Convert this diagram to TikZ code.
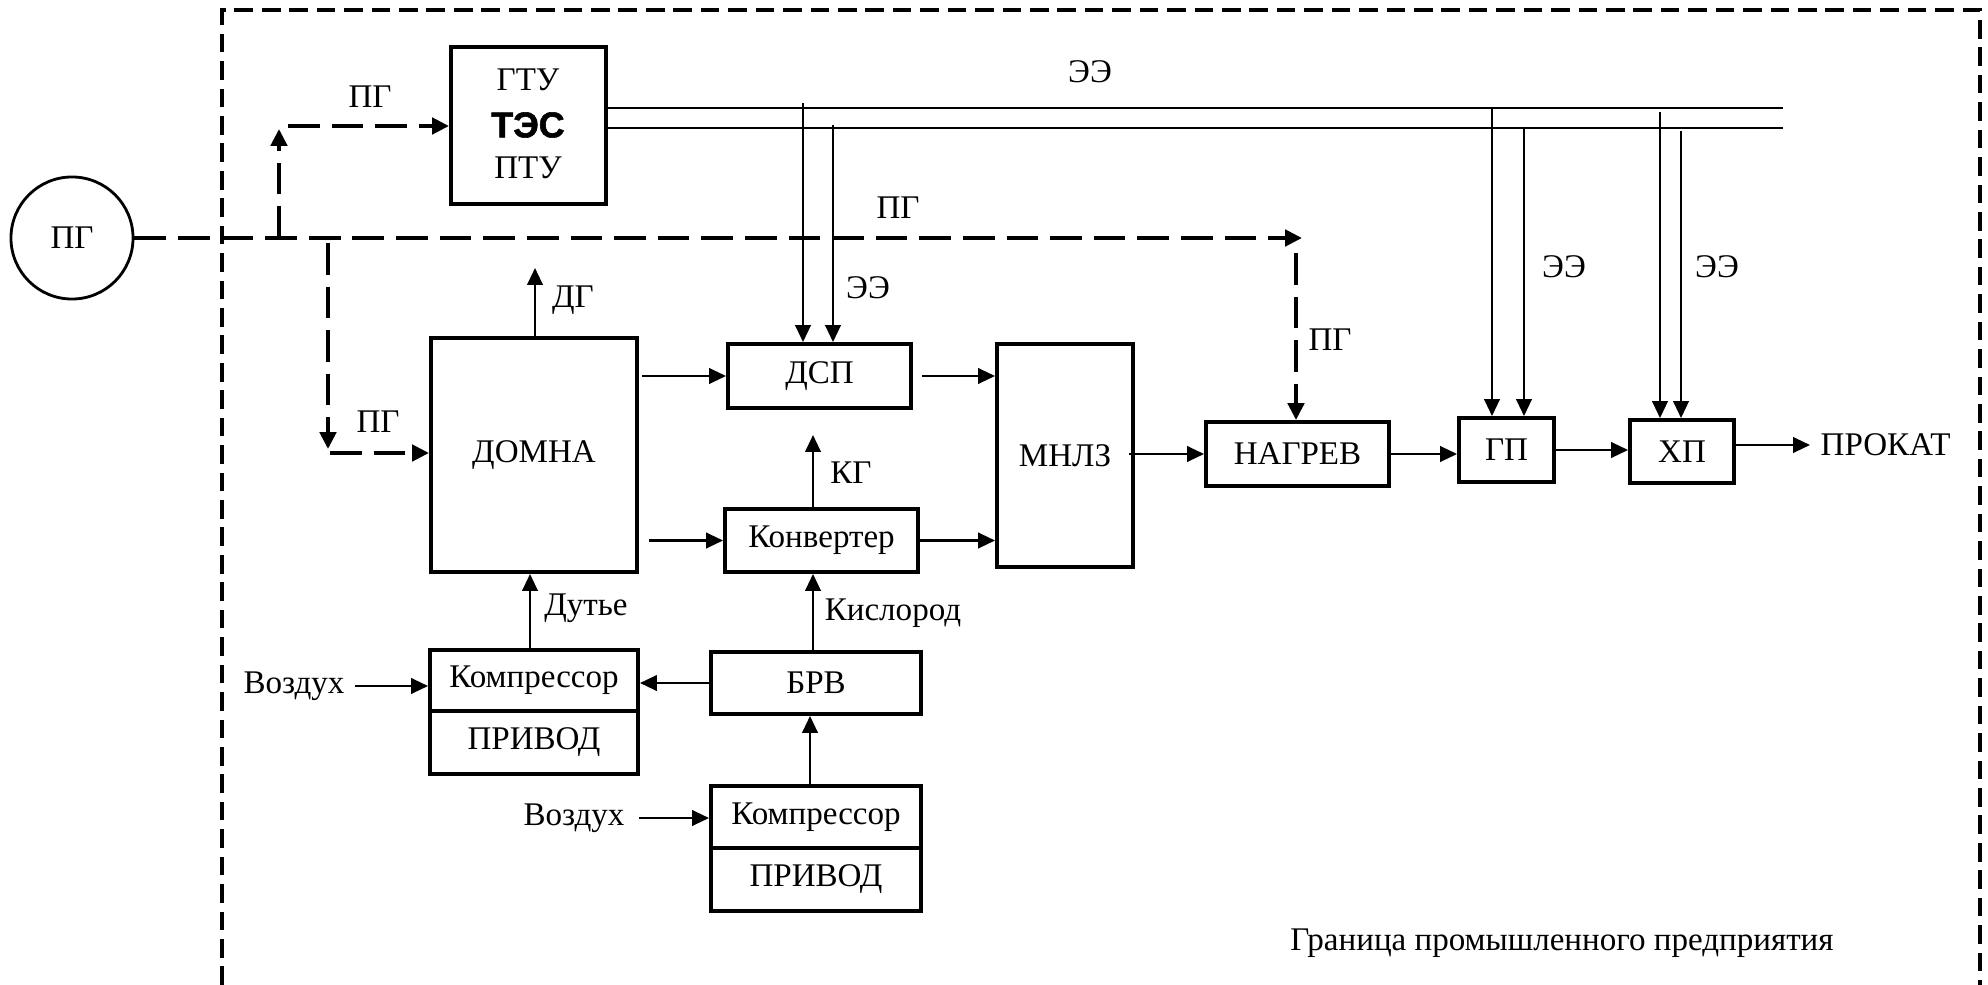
\documentclass[tikz,border=0pt]{standalone}
\usepackage{fontspec}
\setmainfont{Liberation Serif}
\newfontfamily\tesfont{Liberation Sans}[FakeBold=1.6]
\usetikzlibrary{arrows.meta}
\begin{document}
\begin{tikzpicture}[x=0.01cm,y=-0.01cm,
  font=\fontsize{9.4}{11}\selectfont,
  box/.style={draw,line width=1.1pt,inner sep=0pt,align=center},
  arr/.style={line width=0.65pt,-{Triangle[length=4.8pt,width=4.4pt]}},
  gas/.style={line width=1.15pt,dash pattern=on 9pt off 3.4pt},
  gasarr/.style={gas,-{Triangle[length=4.8pt,width=4.6pt]}},
  bus/.style={line width=0.4pt},
  boundary/.style={line width=0.9pt,dash pattern=on 5.3pt off 2.5pt},
  lbl/.style={inner sep=0pt}]
\useasboundingbox (0,0) rectangle (1988,985);

% boundary of the enterprise
\draw[boundary] (222,985) -- (222,10) -- (1980,10) -- (1980,985);
\node[lbl] (granica) at (1562,943) {Граница промышленного предприятия};

% source of natural gas
\node[draw,circle,line width=0.8pt,minimum size=1.22cm,inner sep=0pt] (pg) at (72,238) {ПГ};

% boxes
\node[box,minimum width=1.55cm,minimum height=1.57cm] (tes) at (528.5,125.5) {};
\node[lbl] (gtu) at (528,80) {ГТУ};
\node[lbl,font=\tesfont\bfseries\fontsize{10.2}{12}\selectfont] (tesl) at (528,125) {ТЭС};
\node[lbl] (ptu) at (528,168) {ПТУ};

\node[box,minimum width=2.06cm,minimum height=2.34cm] (domna) at (534,455) {ДОМНА};
\node[box,minimum width=1.83cm,minimum height=0.64cm] (dsp) at (819.5,376) {ДСП};
\node[box,minimum width=1.93cm,minimum height=0.63cm] (konv) at (821.5,540.5) {Конвертер};
\node[box,minimum width=1.36cm,minimum height=2.23cm] (mnlz) at (1065,455.5) {МНЛЗ};
\node[box,minimum width=1.83cm,minimum height=0.64cm] (nagrev) at (1297.5,454) {НАГРЕВ};
\node[box,minimum width=0.95cm,minimum height=0.64cm] (gp) at (1506.5,450) {ГП};
\node[box,minimum width=1.04cm,minimum height=0.63cm] (hp) at (1682,451.5) {ХП};
\node[box,minimum width=2.08cm,minimum height=0.61cm] (komp1) at (534,680.5) {Компрессор};
\node[box,minimum width=2.08cm,minimum height=0.63cm] (priv1) at (534,742.5) {ПРИВОД};
\node[box,minimum width=2.10cm,minimum height=0.62cm] (brv) at (816,683) {БРВ};
\node[box,minimum width=2.10cm,minimum height=0.62cm] (komp2) at (816,817) {Компрессор};
\node[box,minimum width=2.10cm,minimum height=0.63cm] (priv2) at (816,879.5) {ПРИВОД};

% free texts
\node[lbl] (vozd1) at (294,686) {Воздух};
\node[lbl] (vozd2) at (574,818) {Воздух};
\node[lbl,anchor=west] (prokat) at (1820,445) {ПРОКАТ};

% natural gas network
\coordinate (pgEnd) at (1302,238);
\coordinate (upBase) at (279,238);
\coordinate (upTip) at (279,129);
\coordinate (tesIn) at (288,126);
\coordinate (dnBase) at (328,243);
\coordinate (dnTip) at (328,449);
\coordinate (domIn) at (330,453);
\coordinate (ngTop) at (1296,253);

\draw[gasarr] (pg.east) -- (pgEnd);
\draw[gasarr] (upBase) -- (upTip);
\draw[gasarr] (tesIn) -- (tesIn -| tes.west);
\draw[gasarr] (dnBase) -- (dnTip);
\draw[gasarr] (domIn) -- (domIn -| domna.west);
\draw[gasarr] (ngTop) -- (ngTop |- nagrev.north);

\node[lbl] (pgl1) at (370,97) {ПГ};
\node[lbl] (pgl2) at (898,208) {ПГ};
\node[lbl] (pgl3) at (378,422) {ПГ};
\node[lbl] (pgl4) at (1330,340) {ПГ};

% electric bus
\coordinate (busA) at (606,108);
\coordinate (busB) at (606,128);
\coordinate (busEnd) at (1783,0);
\draw[bus] (busA) -- (busA -| busEnd);
\draw[bus] (busB) -- (busB -| busEnd);
\node[lbl] (eel0) at (1090,72) {ЭЭ};

\coordinate (d1) at (803,103);
\coordinate (d2) at (833,125);
\coordinate (d3) at (1492,107);
\coordinate (d4) at (1524,127);
\coordinate (d5) at (1660,112);
\coordinate (d6) at (1681,131);
\draw[arr] (d1) -- (d1 |- dsp.north);
\draw[arr] (d2) -- (d2 |- dsp.north);
\draw[arr] (d3) -- (d3 |- gp.north);
\draw[arr] (d4) -- (d4 |- gp.north);
\draw[arr] (d5) -- (d5 |- hp.north);
\draw[arr] (d6) -- (d6 |- hp.north);
\node[lbl] (eel1) at (868,288) {ЭЭ};
\node[lbl] (eel2) at (1564,267) {ЭЭ};
\node[lbl] (eel3) at (1717,267) {ЭЭ};

% material flows
\coordinate (dgTip) at (535,268);
\draw[arr] (dgTip |- domna.north) -- (dgTip);
\node[lbl] (dgl) at (573,300) {ДГ};

\draw[arr] ([xshift=0.03cm]domna.east |- dsp.west) -- (dsp.west);
\draw[arr] ([xshift=0.1cm]domna.east |- konv.west) -- (konv.west);
\draw[arr] ([xshift=0.09cm]dsp.east) -- (mnlz.west |- dsp.east);
\draw[arr] (konv.east) -- (mnlz.west |- konv.east);

\coordinate (kgTip) at (813,435);
\draw[arr] (kgTip |- konv.north) -- (kgTip);
\node[lbl] (kgl) at (851,473) {КГ};

\coordinate (kx) at (813,0);
\draw[arr] (kx |- brv.north) -- (kx |- konv.south);
\node[lbl] (kisl) at (893,613) {Кислород};

\coordinate (dx) at (530,0);
\draw[arr] (dx |- komp1.north) -- (dx |- domna.south);
\node[lbl] (dutl) at (586,608) {Дутье};

\coordinate (bx) at (810,0);
\draw[arr] (bx |- komp2.north) -- (bx |- brv.south);
\draw[arr] (brv.west) -- (komp1.east |- brv.west);

\draw[arr] ([xshift=0.1cm]vozd1.east) -- (komp1.west |- vozd1.east);
\draw[arr] ([xshift=0.14cm]vozd2.east) -- (komp2.west |- vozd2.east);

\draw[arr] ([xshift=-0.06cm]mnlz.east |- nagrev.west) -- (nagrev.west);
\draw[arr] (nagrev.east) -- (gp.west |- nagrev.east);
\draw[arr] (gp.east) -- (hp.west |- gp.east);
\draw[arr] (hp.east |- prokat.west) -- ([xshift=-0.1cm]prokat.west);
\end{tikzpicture}
\end{document}
